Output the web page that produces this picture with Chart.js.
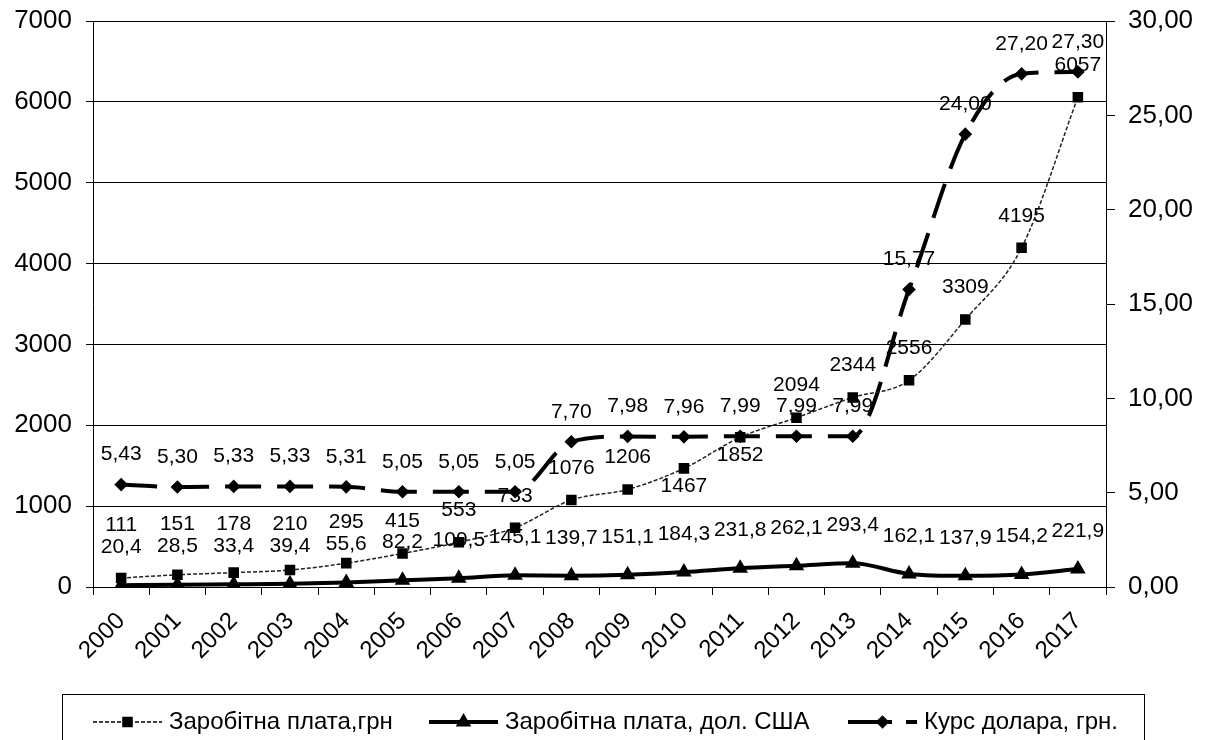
<!DOCTYPE html>
<html>
<head>
<meta charset="utf-8">
<script src="https://cdn.jsdelivr.net/npm/chart.js@4.4.1/dist/chart.umd.min.js"></script>
<style>
  html, body { margin: 0; padding: 0; background: #fff; }
  #wrap { width: 1209px; height: 740px; position: relative; }
</style>
</head>
<body>
<div id="wrap"><canvas id="chart"></canvas></div>
<script>
/* ---- data ---- */
const years = ['2000','2001','2002','2003','2004','2005','2006','2007','2008',
  '2009','2010','2011','2012','2013','2014','2015','2016','2017'];
const salaryUah = [111, 151, 178, 210, 295, 415, 553, 733, 1076, 1206, 1467, 1852, 2094, 2344, 2556, 3309, 4195, 6057];
const salaryUsd = [20.4, 28.5, 33.4, 39.4, 55.6, 82.2, 109.5, 145.1, 139.7, 151.1, 184.3, 231.8, 262.1, 293.4, 162.1, 137.9, 154.2, 221.9];
const usdRate = [5.43, 5.30, 5.33, 5.33, 5.31, 5.05, 5.05, 5.05, 7.70, 7.98, 7.96, 7.99, 7.99, 7.99, 15.77, 24.00, 27.20, 27.30];
const seriesNames = ['Заробітна плата,грн', 'Заробітна плата, дол. США', 'Курс долара, грн.'];

const FONT = '"Liberation Sans", Arial, sans-serif';
const comma = (v, d) => v.toFixed(d).replace('.', ',');

/* ---- value labels: USD and rate above, UAH dodges the others ---- */
const valueLabels = {
  id: 'valueLabels',
  afterDatasetsDraw(chart) {
    const c = chart.ctx;
    const ds = chart.data.datasets;
    const mUah = chart.getDatasetMeta(0).data;
    const mUsd = chart.getDatasetMeta(1).data;
    const mRate = chart.getDatasetMeta(2).data;
    const near = (a, b, d) => Math.abs(a - b) < d;
    c.save();
    c.font = '21px ' + FONT;
    c.fillStyle = '#000';
    c.textAlign = 'center';
    c.textBaseline = 'middle';
    years.forEach((_, i) => {
      const usdY = mUsd[i].y + ds[1].labelDy;
      const rateY = mRate[i].y + ds[2].labelDy;
      let uahY = mUah[i].y + ds[0].labelDy;
      if (near(uahY, usdY, 20)) uahY = usdY - 22;
      if (near(uahY, rateY, 20) || near(uahY, mRate[i].y, 6)) {
        const below = mUah[i].y + 18;
        if (!near(below, usdY, 20) && !near(below, mRate[i].y, 12)) uahY = below;
      }
      c.fillText(ds[1].fmt(salaryUsd[i]), mUsd[i].x, usdY);
      c.fillText(ds[2].fmt(usdRate[i]), mRate[i].x, rateY);
      c.fillText(ds[0].fmt(salaryUah[i]), mUah[i].x, uahY);
    });
    c.restore();
  }
};

/* ---- boxed legend with line + marker samples ---- */
const boxLegend = {
  id: 'boxLegend',
  afterDraw(chart) {
    const c = chart.ctx;
    const top = 694, cy = 722;
    c.save();
    c.strokeStyle = '#000';
    c.lineWidth = 1;
    c.strokeRect(62.5, top + 0.5, 1082, 60);
    c.font = '24px ' + FONT;
    c.textBaseline = 'middle';
    const xs = [93, 429, 848];
    chart.data.datasets.forEach((ds, di) => {
      const x0 = xs[di], x1 = x0 + 69;
      c.beginPath();
      c.setLineDash(ds.legendDash || []);
      c.lineWidth = ds.borderWidth;
      c.strokeStyle = '#000';
      c.moveTo(x0, cy); c.lineTo(x1, cy);
      c.stroke();
      c.setLineDash([]);
      Chart.helpers.drawPoint(c, { pointStyle: ds.pointStyle, radius: ds.pointRadius, borderWidth: 1 }, (x0 + x1) / 2, cy);
      c.fillStyle = '#000';
      c.fill();
      c.fillText(ds.label, x1 + 7, cy);
    });
    c.restore();
  }
};

/* keep the plot area where the reference has it */
const fitY = width => s => { s.width = width; s.paddingTop = 10; s.paddingBottom = 0; };

new Chart(document.getElementById('chart'), {
  type: 'line',
  data: {
    labels: years,
    datasets: [{
      label: seriesNames[0],
      data: salaryUah,
      yAxisID: 'y',
      borderColor: '#222',
      borderWidth: 1.5,
      borderDash: [4, 2],
      legendDash: [4, 2],
      pointStyle: 'rect',
      pointRadius: 6.4,
      pointBackgroundColor: '#000',
      pointBorderColor: '#000',
      labelDy: -32,
      fmt: v => String(v),
    }, {
      label: seriesNames[1],
      data: salaryUsd,
      yAxisID: 'y',
      borderColor: '#000',
      borderWidth: 4,
      pointStyle: 'triangle',
      pointRadius: 5,
      pointBackgroundColor: '#000',
      pointBorderColor: '#000',
      labelDy: -38,
      fmt: v => comma(v, 1),
    }, {
      label: seriesNames[2],
      data: usdRate,
      yAxisID: 'y1',
      borderColor: '#000',
      borderWidth: 4,
      borderDash: [36, 16],
      legendDash: [44, 14],
      pointStyle: 'rectRot',
      pointRadius: 4,
      pointBackgroundColor: '#000',
      pointBorderColor: '#000',
      labelDy: -30,
      fmt: v => comma(v, 2),
    }]
  },
  options: {
    responsive: true, maintainAspectRatio: false,
    animation: false,
    layout: { padding: { top: 21, bottom: 0, left: 0, right: 0 } },
    plugins: { legend: { display: false }, tooltip: { enabled: false } },
    elements: { line: { cubicInterpolationMode: 'monotone' } },
    scales: {
      x: {
        offset: true,
        grid: { display: true, drawOnChartArea: false, offset: true, color: '#000', tickLength: 8 },
        border: { color: '#000', width: 1 },
        ticks: { color: '#000', font: { family: FONT, size: 24 }, minRotation: 45, maxRotation: 45, padding: 12 },
        afterFit: s => { s.height = 153; s.paddingLeft = 0; s.paddingRight = 0; }
      },
      y: {
        position: 'left',
        min: 0, max: 7000,
        ticks: { stepSize: 1000, color: '#000', font: { family: FONT, size: 26 }, padding: 14, callback: v => String(v) },
        grid: { color: '#000', tickLength: 7 },
        border: { color: '#000', width: 1 },
        afterFit: fitY(93)
      },
      y1: {
        position: 'right',
        min: 0, max: 30,
        ticks: { stepSize: 5, color: '#000', font: { family: FONT, size: 26 }, padding: 13, callback: v => comma(v, 2) },
        grid: { drawOnChartArea: false, color: '#000', tickLength: 9 },
        border: { color: '#000', width: 1 },
        afterFit: fitY(103)
      }
    }
  },
  plugins: [valueLabels, boxLegend]
});
</script>
</body>
</html>
